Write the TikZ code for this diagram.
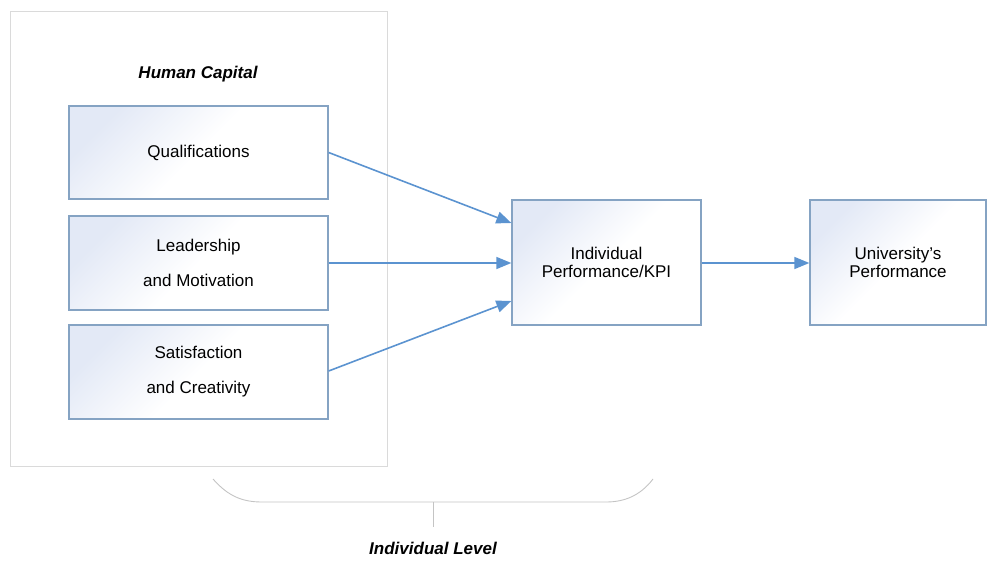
\documentclass[tikz,border=0pt]{standalone}
\usepackage{fontspec}
\setmainfont{Liberation Sans}
\usetikzlibrary{arrows.meta}
\definecolor{boxline}{HTML}{85A3C3}
\definecolor{boxfill}{HTML}{E3E9F6}
\definecolor{arrowc}{HTML}{5B93D0}
\definecolor{frame}{HTML}{DADADA}
\definecolor{bracec}{HTML}{C4C4C4}
\tikzset{
  fbox/.style={draw=boxline, line width=1.3pt, top color=boxfill, bottom color=white, middle color=white, shading angle=45, inner sep=0pt, align=center, font=\fontsize{17}{35}\selectfont},
  tbox/.style={fbox, font=\fontsize{17}{18}\selectfont},
  conn/.style={draw=arrowc, line width=1.6pt, -{Triangle[length=15pt,width=12pt]}},
  title/.style={font=\fontsize{17}{20}\selectfont\bfseries\itshape}
}
\begin{document}
\begin{tikzpicture}[x=1pt,y=-1pt]
\useasboundingbox (0,0) rectangle (987,564);
\draw[frame, line width=1pt] (10,12) rectangle (387,466);
\node[title] (hc) at (198,74) {Human Capital};
\node[fbox, minimum width=259pt, minimum height=93pt] (q) at (198.5,152.5) {Qualifications};
\node[fbox, minimum width=259pt, minimum height=94pt] (l) at (198.5,263) {Leadership\\and Motivation};
\node[fbox, minimum width=259pt, minimum height=94pt] (s) at (198.5,372) {Satisfaction\\and Creativity};
\node[tbox, minimum width=189pt, minimum height=125pt] (k) at (606.5,262.5) {Individual\\Performance/KPI};
\node[tbox, minimum width=176pt, minimum height=125pt] (u) at (898,262.5) {University’s\\Performance};
\draw[conn] (q.east) -- (k.west |- 0,223);
\draw[conn] (l.east |- 0,263) -- (k.west |- 0,263);
\draw[conn] (s.east |- 0,371) -- (k.west |- 0,301);
\draw[conn] (k.east |- 0,263) -- (u.west |- 0,263);
\coordinate (bl) at (213,479);
\coordinate (br) at (653,479);
\coordinate (bm) at (433,502);
\coordinate (bs) at (433,527);
\draw[bracec, line width=0.9pt] (bl) .. controls (228,496) and (242,502) .. (262,502) -- (606,502) .. controls (624,502) and (640,496) .. (br);
\draw[bracec, line width=0.9pt] (bm) -- (bs);
\node[title] (il) at (433,548) {Individual Level};
\end{tikzpicture}
\end{document}
